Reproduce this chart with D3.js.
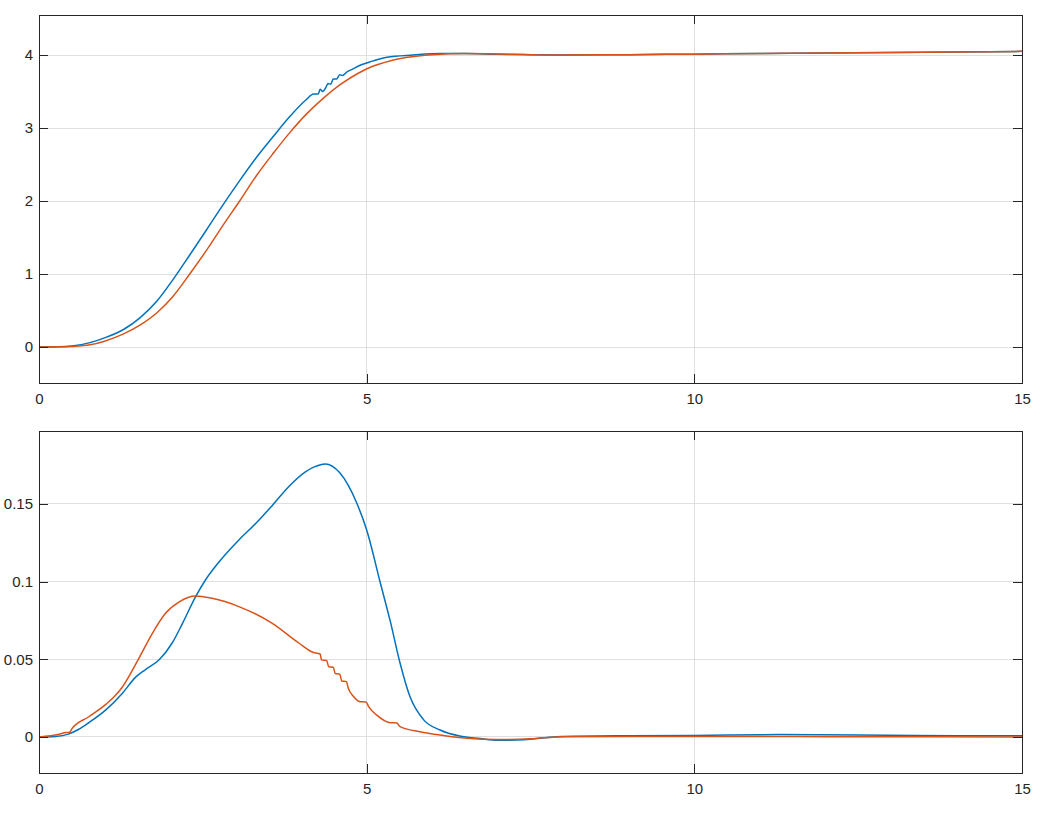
<!DOCTYPE html>
<html>
<head>
<meta charset="utf-8">
<script src="https://cdn.jsdelivr.net/npm/d3@7"></script>
<style>
  html, body { margin: 0; padding: 0; background: #fff; }
  svg { display: block; }
  text { font-family: "Liberation Sans", Arial, Helvetica, sans-serif; font-size: 15px; fill: #262626; }
</style>
</head>
<body>
<svg id="chart" width="1046" height="831"></svg>
<script>
// ---------------- data ----------------
const xTicks = [0, 5, 10, 15];
const topYTicks = [0, 1, 2, 3, 4];
const bottomYTicks = [0, 0.05, 0.1, 0.15];
const bottomYTickLabels = ["0", "0.05", "0.1", "0.15"];

const topBlueT = [0, 0.3, 0.5, 0.78, 1.0, 1.29, 1.54, 1.80, 2.05, 2.30, 2.56, 2.81, 3.07, 3.32, 3.58, 3.83, 4.08, 4.19, 4.26, 4.29, 4.33, 4.38, 4.41, 4.45, 4.49, 4.54, 4.59, 4.63, 4.70, 4.77, 4.90, 5.0, 5.10, 5.31, 5.71, 6.12, 6.5, 7.0, 7.5, 8.0, 9.0, 10.0, 11.0, 12.0, 13.0, 14.0, 15.0];
const topBlueY = [0, 0.003, 0.014, 0.06, 0.125, 0.24, 0.40, 0.63, 0.93, 1.26, 1.61, 1.95, 2.29, 2.60, 2.89, 3.16, 3.39, 3.465, 3.465, 3.53, 3.50, 3.56, 3.61, 3.60, 3.67, 3.67, 3.73, 3.72, 3.77, 3.80, 3.86, 3.89, 3.92, 3.97, 4.00, 4.02, 4.02, 4.01, 4.005, 4.0, 4.005, 4.012, 4.02, 4.028, 4.035, 4.042, 4.05];

const topOrangeT = [0, 0.3, 0.5, 0.78, 1.0, 1.29, 1.54, 1.80, 2.05, 2.30, 2.56, 2.81, 3.07, 3.32, 3.58, 3.83, 4.08, 4.34, 4.59, 4.85, 5.10, 5.36, 5.6, 6.0, 6.5, 7.0, 7.5, 8.0, 9, 10, 11, 12, 13, 14, 15];
const topOrangeY = [0, 0.002, 0.008, 0.03, 0.08, 0.18, 0.30, 0.47, 0.70, 1.00, 1.33, 1.67, 2.01, 2.35, 2.66, 2.94, 3.19, 3.41, 3.59, 3.74, 3.85, 3.92, 3.965, 4.005, 4.02, 4.015, 4.005, 4.0, 4.005, 4.012, 4.02, 4.028, 4.035, 4.042, 4.05];

const bottomBlueT = [0, 0.25, 0.46, 0.6, 0.76, 1.02, 1.27, 1.475, 1.63, 1.83, 2.03, 2.19, 2.39, 2.54, 2.75, 3.05, 3.31, 3.56, 3.81, 4.07, 4.20, 4.37, 4.59, 4.85, 5.0, 5.21, 5.36, 5.51, 5.66, 5.87, 6.12, 6.42, 6.73, 7.0, 7.4, 7.9, 9.0, 10.0, 11.3, 12.5, 14, 15];
const bottomBlueY = [0, 0.0003, 0.002, 0.0048, 0.0092, 0.0174, 0.028, 0.0385, 0.0435, 0.0495, 0.0603, 0.0731, 0.0903, 0.101, 0.1128, 0.1268, 0.1375, 0.149, 0.161, 0.1707, 0.1738, 0.1757, 0.1700, 0.1504, 0.1332, 0.0989, 0.0745, 0.0474, 0.026, 0.011, 0.0045, 0.0006, -0.001, -0.0022, -0.0018, 0.0002, 0.0008, 0.001, 0.0015, 0.0012, 0.0008, 0.0007];

const bottomOrangeT = [0, 0.305, 0.41, 0.47, 0.5, 0.76, 1.02, 1.15, 1.27, 1.40, 1.53, 1.73, 1.93, 2.14, 2.39, 2.64, 3.05, 3.56, 3.97, 4.19, 4.29, 4.31, 4.39, 4.42, 4.49, 4.52, 4.59, 4.62, 4.69, 4.72, 4.80, 4.90, 4.99, 5.03, 5.15, 5.36, 5.46, 5.51, 5.81, 6.17, 6.53, 7.0, 7.5, 8.0, 10, 12, 15];
const bottomOrangeY = [0, 0.0017, 0.0028, 0.0030, 0.0052, 0.013, 0.021, 0.026, 0.032, 0.041, 0.051, 0.0667, 0.0796, 0.087, 0.0907, 0.0892, 0.0839, 0.0731, 0.0603, 0.0543, 0.0534, 0.0496, 0.0492, 0.0452, 0.0449, 0.0408, 0.0404, 0.036, 0.0356, 0.0313, 0.026, 0.0227, 0.0225, 0.0195, 0.0142, 0.0092, 0.0090, 0.0066, 0.0034, 0.001, -0.0008, -0.0017, -0.0012, 0.0002, 0.0003, 0.0002, 0.0];

// ---------------- drawing ----------------
const svg = d3.select("#chart");
const BLUE = "#0072BD", ORANGE = "#D95319";
const AXIS = "#262626", GRID = "#dfdfdf";

function zip(t, y) { return t.map((v, i) => [v, y[i]]); }

function panel(cfg) {
  const { left, right, top, bottom, yDomain, yTicks, yFmt, series } = cfg;
  const x = d3.scaleLinear().domain([0, 15]).range([left, right]);
  const y = d3.scaleLinear().domain(yDomain).range([bottom, top]);
  const g = svg.append("g");

  // grid
  g.append("g").selectAll("line").data(xTicks).join("line")
    .attr("x1", d => x(d)).attr("x2", d => x(d))
    .attr("y1", top).attr("y2", bottom)
    .attr("stroke", GRID).attr("stroke-width", 1).attr("shape-rendering", "crispEdges");
  g.append("g").selectAll("line").data(yTicks).join("line")
    .attr("x1", left).attr("x2", right)
    .attr("y1", d => y(d)).attr("y2", d => y(d))
    .attr("stroke", GRID).attr("stroke-width", 1).attr("shape-rendering", "crispEdges");

  // lines
  const clipId = "clip" + top;
  svg.append("clipPath").attr("id", clipId).append("rect")
    .attr("x", left).attr("y", top).attr("width", right - left).attr("height", bottom - top);
  const line = d3.line().x(d => x(d[0])).y(d => y(d[1])).curve(d3.curveMonotoneX);
  const lg = g.append("g").attr("clip-path", `url(#${clipId})`);
  series.forEach(s => {
    lg.append("path").datum(s.data).attr("d", line)
      .attr("fill", "none").attr("stroke", s.color).attr("stroke-width", 1.5)
      .attr("stroke-linejoin", "round");
  });

  // axes with inward ticks
  const tl = 9;
  g.append("g").attr("transform", `translate(0,${bottom})`)
    .call(d3.axisBottom(x).tickValues(xTicks).tickSizeInner(-tl).tickSizeOuter(0).tickPadding(10).tickFormat(d3.format("d")))
    .call(a => a.select(".domain").remove());
  g.append("g").attr("transform", `translate(0,${top})`)
    .call(d3.axisTop(x).tickValues(xTicks).tickSizeInner(-tl).tickSizeOuter(0).tickFormat(""))
    .call(a => a.select(".domain").remove());
  g.append("g").attr("transform", `translate(${left},0)`)
    .call(d3.axisLeft(y).tickValues(yTicks).tickSizeInner(-tl).tickSizeOuter(0).tickPadding(6).tickFormat(yFmt))
    .call(a => a.select(".domain").remove());
  g.append("g").attr("transform", `translate(${right},0)`)
    .call(d3.axisRight(y).tickValues(yTicks).tickSizeInner(-tl).tickSizeOuter(0).tickFormat(""))
    .call(a => a.select(".domain").remove());

  g.selectAll(".tick line").attr("stroke", AXIS).attr("stroke-width", 1).attr("shape-rendering", "crispEdges");
  g.selectAll(".tick text").attr("fill", AXIS).style("font-size", "15px")
    .style("font-family", "'Liberation Sans', Arial, sans-serif");

  g.append("rect").attr("x", left).attr("y", top)
    .attr("width", right - left).attr("height", bottom - top)
    .attr("fill", "none").attr("stroke", AXIS).attr("stroke-width", 1).attr("shape-rendering", "crispEdges");
}

panel({
  left: 39, right: 1022, top: 15, bottom: 383,
  yDomain: [-0.493, 4.548], yTicks: topYTicks, yFmt: d3.format("d"),
  series: [
    { data: zip(topBlueT, topBlueY), color: BLUE },
    { data: zip(topOrangeT, topOrangeY), color: ORANGE }
  ]
});

panel({
  left: 39, right: 1022, top: 431, bottom: 773,
  yDomain: [-0.0232, 0.1969], yTicks: bottomYTicks,
  yFmt: d => bottomYTickLabels[bottomYTicks.indexOf(d)],
  series: [
    { data: zip(bottomBlueT, bottomBlueY), color: BLUE },
    { data: zip(bottomOrangeT, bottomOrangeY), color: ORANGE }
  ]
});
</script>
</body>
</html>
